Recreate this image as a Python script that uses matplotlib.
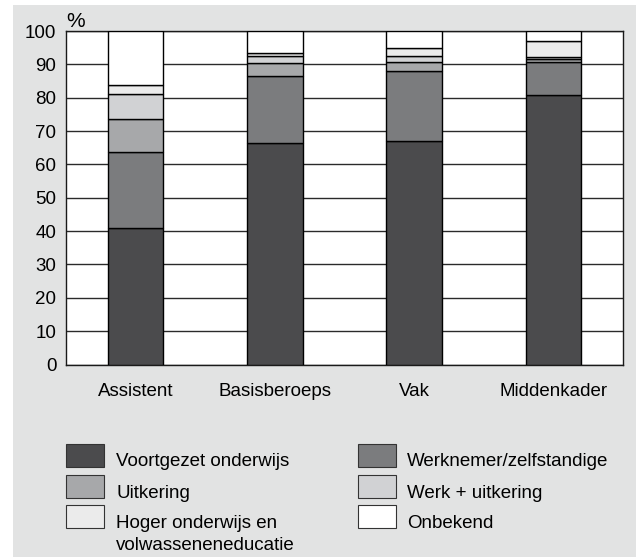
import matplotlib.pyplot as plt
from matplotlib.patches import Rectangle
import numpy as np

plt.rcParams['font.family'] = ['Liberation Sans', 'DejaVu Sans']

categories = ['Assistent', 'Basisberoeps', 'Vak', 'Middenkader']
series = ['Voortgezet onderwijs', 'Werknemer/zelfstandige', 'Uitkering',
          'Werk + uitkering', 'Hoger onderwijs en\nvolwasseneneducatie', 'Onbekend']
voortgezet = [41.0, 66.4, 67.0, 80.7]
werknemer = [22.8, 20.1, 21.1, 9.9]
uitkering = [9.9, 3.8, 2.5, 1.0]
werk_uitkering = [7.4, 2.1, 1.8, 0.7]
hoger = [2.6, 1.1, 2.5, 4.6]
onbekend = [16.3, 6.5, 5.1, 3.1]
colors = ['#4b4b4d', '#7b7c7e', '#a7a8aa', '#d1d2d4', '#ebebeb', '#ffffff']

W, H = 641, 557
fig = plt.figure(figsize=(W / 100, H / 100), dpi=100)
fig.patch.set_facecolor('white')
fig.add_artist(Rectangle((13 / W, 0), (636 - 13) / W, (H - 5) / H,
                         transform=fig.transFigure, facecolor='#e2e3e3',
                         edgecolor='none', zorder=0))

ax = fig.add_axes([66 / W, (H - 364.5) / H, (623 - 66) / W, (364.5 - 31) / H])
ax.set_facecolor('white')

x = np.arange(len(categories))
bottom = np.zeros(len(categories))
for vals, c in zip([voortgezet, werknemer, uitkering, werk_uitkering, hoger, onbekend], colors):
    ax.bar(x, vals, width=0.4, bottom=bottom, color=c, edgecolor='black',
           linewidth=1, zorder=3)
    bottom += np.array(vals)

ax.set_xlim(-0.5, 3.5)
ax.set_ylim(0, 100)
ax.set_yticks(range(0, 101, 10))
ax.set_xticks(x)
ax.set_xticklabels(categories)
ax.tick_params(length=0, labelsize=13.5)
ax.tick_params(axis='x', pad=13)
ax.tick_params(axis='y', pad=7)
ax.grid(axis='y', color='#2a2a2a', linewidth=1, zorder=1)
for s in ax.spines.values():
    s.set_color('#1a1a1a')
    s.set_linewidth(1)
ax.text(0.0, (364.5 - 27.3) / 333.5, '%', transform=ax.transAxes, fontsize=15,
        ha='left', va='baseline')

# legend
cols = [(66, 116), (358, 407)]
rows = [444, 475, 505]
for i, (name, c) in enumerate(zip(series, colors)):
    col = cols[i % 2]
    row = rows[i // 2]
    fig.add_artist(Rectangle((col[0] / W, (H - row - 23) / H), 38 / W, 23 / H,
                             transform=fig.transFigure, facecolor=c,
                             edgecolor='#333333', linewidth=0.8))
    lines = name.split('\n')
    for j, line in enumerate(lines):
        fig.text(col[1] / W, (H - row - 22.5 - 23 * j) / H, line, fontsize=13.5,
                 ha='left', va='baseline')

fig.savefig('out.png', dpi=100)
